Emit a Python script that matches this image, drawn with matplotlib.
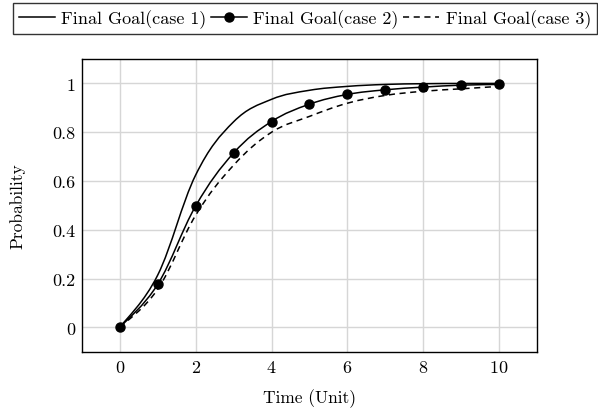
import numpy as np
import matplotlib
matplotlib.use("Agg")
import matplotlib.pyplot as plt
from matplotlib.path import Path
from matplotlib.patches import PathPatch
from matplotlib.lines import Line2D

plt.rcParams["font.family"] = ["cmr10", "DejaVu Serif"]
plt.rcParams["axes.formatter.use_mathtext"] = True
plt.rcParams["mathtext.fontset"] = "cm"

# Valeurs
time = [0, 1, 2, 3, 4, 5, 6, 7, 8, 9, 10]
case1 = [0, 0.215, 0.625, 0.843, 0.935, 0.972, 0.988, 0.996, 0.999, 1.0, 1.0]
case2 = [0, 0.177, 0.498, 0.715, 0.844, 0.915, 0.955, 0.974, 0.985, 0.993, 0.996]
case3 = [0, 0.157, 0.46, 0.665, 0.80, 0.865, 0.919, 0.951, 0.968, 0.978, 0.988]
labels = ["Final Goal(case 1)", "Final Goal(case 2)", "Final Goal(case 3)"]
xticks = [0, 2, 4, 6, 8, 10]
yticks = [0, 0.2, 0.4, 0.6, 0.8, 1]
yticklabels = ["0", "0.2", "0.4", "0.6", "0.8", "1"]


def smooth_path(x, y, tension=0.55):
    # courbe de Bezier comme "smooth" de pgfplots
    p = np.column_stack([x, y]).astype(float)
    n = len(p)
    verts = [p[0]]
    codes = [Path.MOVETO]
    k = tension / 3.0
    for i in range(n - 1):
        d0 = p[min(i + 1, n - 1)] - p[max(i - 1, 0)]
        d1 = p[min(i + 2, n - 1)] - p[i]
        verts += [p[i] + k * d0, p[i + 1] - k * d1, p[i + 1]]
        codes += [Path.CURVE4] * 3
    return Path(verts, codes)


fig = plt.figure(figsize=(5.98, 4.10), dpi=100)
ax = fig.add_axes([0.137, 0.1395, 0.761, 0.714])

ax.add_patch(PathPatch(smooth_path(time, case1), fill=False, color="black", lw=1.1))
ax.add_patch(PathPatch(smooth_path(time, case2), fill=False, color="black", lw=1.1))
ax.plot(time, case2, "o", color="black", ms=6.5, zorder=5, clip_on=False)
ax.add_patch(PathPatch(smooth_path(time, case3), fill=False, color="black", lw=1.1,
                       linestyle=(0, (4, 3))))

ax.set_xlim(-1, 11)
ax.set_ylim(-0.1, 1.1)
ax.set_xticks(xticks)
ax.set_yticks(yticks)
ax.set_yticklabels(yticklabels)
ax.grid(True, color="#d6d6d6", lw=1.0)
ax.set_axisbelow(True)
ax.tick_params(length=0, labelsize=13, pad=5)
for s in ax.spines.values():
    s.set_linewidth(1.0)
ax.set_xlabel("Time (Unit)", fontsize=12.5, labelpad=10)
ax.set_ylabel("Probability", fontsize=12.5, labelpad=19)

handles = [
    Line2D([], [], color="black", lw=1.1),
    Line2D([], [], color="black", lw=1.1, marker="o", ms=6.5),
    Line2D([], [], color="black", lw=1.1, linestyle=(0, (4, 3))),
]
leg = fig.legend(handles, labels, loc="upper center", bbox_to_anchor=(0.51, 0.99),
                 ncol=3, fontsize=13, frameon=True, fancybox=False,
                 edgecolor="black", handlelength=2.0, handletextpad=0.35,
                 columnspacing=0.25, borderpad=0.35, borderaxespad=0.0)
leg.get_frame().set_linewidth(1.0)

fig.savefig("out.png", dpi=100)
